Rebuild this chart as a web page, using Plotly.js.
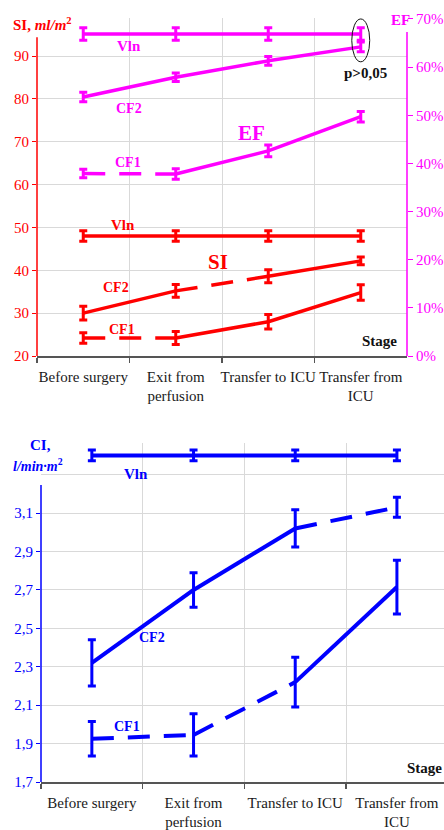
<!DOCTYPE html>
<html>
<head>
<meta charset="utf-8">
<script src="https://cdn.plot.ly/plotly-3.0.1.min.js"></script>
<style>html,body{margin:0;padding:0;background:#fff;}#chart{width:444px;height:830px;}</style>
</head>
<body>
<div id="chart"></div>
<script>
// ---------- DATA ----------
const stages = ['Before surgery', 'Exit from<br>perfusion', 'Transfer to ICU', 'Transfer from<br>ICU'];

// Stroke index (SI, ml/m2), left axis of top chart
const siVln = [48, 48, 48, 48];
const siVlnErr = [1.2, 1.2, 1.2, 1.2];
const siCF2 = [30, 35.2, 38.6, 42.2];
const siCF2Err = [1.6, 1.5, 1.5, 0.9];
const siCF1 = [24.2, 24.2, 28, 34.8];
const siCF1Err = [1.2, 1.5, 1.7, 1.8];

// Ejection fraction (EF, %), right axis of top chart
const efVln = [66.9, 66.9, 66.9, 66.9];
const efVlnErr = [1.3, 1.3, 1.3, 1.3];
const efCF2 = [53.8, 57.9, 61.3, 64.2];
const efCF2Err = [1.0, 0.9, 0.9, 1.0];
const efCF1 = [37.9, 37.8, 42.6, 49.7];
const efCF1Err = [0.9, 1.1, 1.2, 1.1];

// Cardiac index (CI, l/min*m2), bottom chart
const ciVln = [3.40, 3.40, 3.40, 3.40];
const ciVlnErr = [0.028, 0.028, 0.028, 0.028];
const ciCF2 = [2.32, 2.70, 3.02, 3.13];
const ciCF2Err = [0.12, 0.09, 0.097, 0.052];
const ciCF1 = [1.925, 1.945, 2.22, 2.715];
const ciCF1Err = [0.09, 0.11, 0.13, 0.14];

const ciTicks = [1.7, 1.9, 2.1, 2.3, 2.5, 2.7, 2.9, 3.1];

// ---------- STYLE ----------
const RED = '#FF0000', MAG = '#FF00FF', BLUE = '#0000FF';
const DASH = '22px,14px';
const segStyle = {
  siVln: ['solid', 'solid', 'solid'],
  siCF2: ['solid', DASH, 'solid'],
  siCF1: [DASH, 'solid', 'solid'],
  efVln: ['solid', 'solid', 'solid'],
  efCF2: ['solid', 'solid', 'solid'],
  efCF1: [DASH, 'solid', 'solid'],
  ciVln: ['solid', 'solid', 'solid'],
  ciCF2: ['solid', 'solid', DASH],
  ciCF1: [DASH, DASH, 'solid']
};
const SERIF = 'Liberation Serif';
const W = 444, H = 830;
const GRID = '#d9d9d9';

const traces = [];
function addSeries(vals, errs, dashes, color, xa, ya, lw, thick, capw) {
  for (let i = 0; i < vals.length - 1; i++) {
    traces.push({
      x: [stages[i], stages[i + 1]], y: [vals[i], vals[i + 1]],
      mode: 'lines', xaxis: xa, yaxis: ya, hoverinfo: 'skip',
      line: {color: color, width: lw, dash: dashes[i]}
    });
  }
  traces.push({
    x: stages, y: vals, mode: 'markers', xaxis: xa, yaxis: ya, hoverinfo: 'skip',
    marker: {size: 1, color: 'rgba(0,0,0,0)'},
    error_y: {type: 'data', array: errs, visible: true, color: color, thickness: thick, width: capw}
  });
}

addSeries(siVln, siVlnErr, segStyle.siVln, RED, 'x', 'y', 3.5, 3, 4);
addSeries(siCF2, siCF2Err, segStyle.siCF2, RED, 'x', 'y', 3.5, 3, 4);
addSeries(siCF1, siCF1Err, segStyle.siCF1, RED, 'x', 'y', 3.5, 3, 4);
addSeries(efVln, efVlnErr, segStyle.efVln, MAG, 'x', 'y2', 3.5, 3, 4);
addSeries(efCF2, efCF2Err, segStyle.efCF2, MAG, 'x', 'y2', 3.5, 3, 4);
addSeries(efCF1, efCF1Err, segStyle.efCF1, MAG, 'x', 'y2', 3.5, 3, 4);
addSeries(ciVln, ciVlnErr, segStyle.ciVln, BLUE, 'x2', 'y3', 4, 3, 4);
addSeries(ciCF2, ciCF2Err, segStyle.ciCF2, BLUE, 'x2', 'y3', 4, 3, 4);
addSeries(ciCF1, ciCF1Err, segStyle.ciCF1, BLUE, 'x2', 'y3', 4, 3, 4);

function ann(text, px, py, color, size, extra) {
  return Object.assign({
    text: text, xref: 'paper', yref: 'paper', x: px / W, y: 1 - py / H,
    xanchor: 'center', yanchor: 'middle', showarrow: false,
    font: {family: SERIF, size: size, color: color}
  }, extra || {});
}

const annotations = [
  ann('<b>SI, <i>ml/m</i></b><sup><b>2</b></sup>', 42, 24, RED, 15),
  ann('<b>EF</b>', 400, 20, MAG, 15),
  ann('<b>Vln</b>', 129, 46, MAG, 15),
  ann('<b>CF2</b>', 129, 108, MAG, 14),
  ann('<b>CF1</b>', 128, 162, MAG, 14),
  ann('<b>EF</b>', 251, 133, MAG, 21),
  ann('<b>p>0,05</b>', 365, 73, '#111', 15),
  ann('<b>Vln</b>', 123, 225, RED, 15),
  ann('<b>CF2</b>', 116, 287, RED, 14),
  ann('<b>CF1</b>', 122, 329, RED, 14),
  ann('<b>SI</b>', 218, 262, RED, 21),
  ann('<b>Stage</b>', 379, 341, '#111', 15),
  ann('<b>CI,</b>', 40, 445, BLUE, 15),
  ann('<b><i>l/min·m</i></b><sup><b>2</b></sup>', 38, 465, BLUE, 14),
  ann('<b>Vln</b>', 136, 474, BLUE, 15),
  ann('<b>CF2</b>', 152, 637, BLUE, 14),
  ann('<b>CF1</b>', 127, 726, BLUE, 14),
  ann('<b>Stage</b>', 424, 768, '#111', 15)
];

const shapes = [
  {type: 'line', xref: 'x domain', yref: 'y', x0: 0, x1: 0, y0: 20, y1: 94.4, line: {color: RED, width: 1.5}, layer: 'above'},
  {type: 'line', xref: 'x domain', yref: 'y2', x0: 1, x1: 1, y0: 0, y1: 67.3, line: {color: MAG, width: 1.5}, layer: 'above'},
  {type: 'line', xref: 'x2 domain', yref: 'y3', x0: 0, x1: 0, y0: 1.7, y1: 3.246, line: {color: BLUE, width: 1.5}, layer: 'above'},
  {type: 'circle', xref: 'x', yref: 'y2', x0: 2.903, x1: 3.097, y0: efCF2[3] - 3.1, y1: efVln[3] + 3.1, line: {color: '#111', width: 1}, layer: 'above'}
];

const xCommon = {
  type: 'category', categoryorder: 'array', categoryarray: stages,
  tickson: 'boundaries', ticks: 'outside', ticklen: 5, tickcolor: '#555', tickwidth: 1.5,
  showline: true, linecolor: '#555', linewidth: 1.5,
  showgrid: true, gridcolor: GRID, gridwidth: 1,
  tickangle: 0, automargin: false,
  tickfont: {family: SERIF, size: 15, color: '#1a1a1a'},
  ticklabelstandoff: 6, fixedrange: true, zeroline: false
};

const layout = {
  width: W, height: H, margin: {l: 0, r: 0, t: 0, b: 0},
  paper_bgcolor: '#fff', plot_bgcolor: '#fff', showlegend: false,
  separators: ', ',
  xaxis: Object.assign({}, xCommon, {domain: [37 / W, 407 / W], anchor: 'y', range: [-0.5, 3.5]}),
  yaxis: {
    domain: [1 - 356 / H, 1 - 18 / H], anchor: 'x', range: [20, 98.87],
    tick0: 20, dtick: 10, ticks: 'outside', ticklen: 4, tickcolor: RED,
    tickfont: {family: SERIF, size: 15, color: RED}, automargin: false,
    showgrid: true, gridcolor: GRID, showline: false, zeroline: false, fixedrange: true
  },
  yaxis2: {
    overlaying: 'y', side: 'right', anchor: 'x', range: [0, 70.2],
    tick0: 0, dtick: 10, ticksuffix: '%', ticks: 'outside', ticklen: 5, tickcolor: MAG,
    tickfont: {family: SERIF, size: 15, color: MAG}, automargin: false,
    showgrid: false, showline: false, zeroline: false, fixedrange: true
  },
  xaxis2: Object.assign({}, xCommon, {domain: [41 / W, 1], anchor: 'y3', range: [-0.5, 3.463]}),
  yaxis3: {
    domain: [1 - 782 / H, 1 - 443 / H], anchor: 'x2', range: [1.7, 3.465],
    tickmode: 'array', tickvals: ciTicks, tickformat: '.1f',
    ticks: 'outside', ticklen: 4, tickcolor: BLUE, automargin: false,
    tickfont: {family: SERIF, size: 15, color: BLUE},
    showgrid: true, gridcolor: GRID, showline: false, zeroline: false, fixedrange: true,
    minor: {tickvals: [3.3], ticks: '', showgrid: true, gridcolor: GRID}
  },
  annotations: annotations,
  shapes: shapes
};

Plotly.newPlot('chart', traces, layout, {staticPlot: true, displayModeBar: false});
</script>
</body>
</html>
